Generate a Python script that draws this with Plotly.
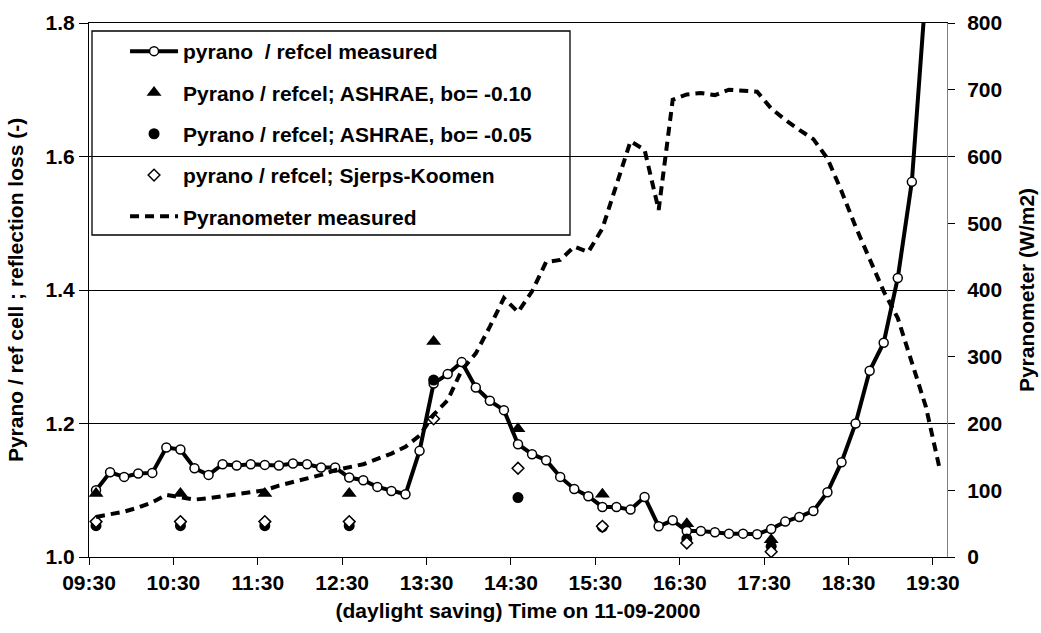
import plotly.graph_objects as go

DAY = "2000-09-11 "

# measured ratio pyranometer / reference cell, 10-minute samples
meas_times = ["09:35", "09:45", "09:55", "10:05", "10:15", "10:25", "10:35", "10:45", "10:55",
              "11:05", "11:15", "11:25", "11:35", "11:45", "11:55", "12:05", "12:15", "12:25",
              "12:35", "12:45", "12:55", "13:05", "13:15", "13:25", "13:35", "13:45", "13:55",
              "14:05", "14:15", "14:25", "14:35", "14:45", "14:55", "15:05", "15:15", "15:25",
              "15:35", "15:45", "15:55", "16:05", "16:15", "16:25", "16:35", "16:45", "16:55",
              "17:05", "17:15", "17:25", "17:35", "17:45", "17:55", "18:05", "18:15", "18:25",
              "18:35", "18:45", "18:55", "19:05", "19:15", "19:25"]
meas_ratio = [1.100, 1.127, 1.120, 1.125, 1.126, 1.164, 1.161, 1.133, 1.123,
              1.139, 1.137, 1.139, 1.138, 1.137, 1.140, 1.139, 1.134, 1.134,
              1.119, 1.115, 1.105, 1.099, 1.094, 1.159, 1.260, 1.274, 1.292,
              1.254, 1.234, 1.220, 1.169, 1.154, 1.145, 1.120, 1.102, 1.091,
              1.075, 1.075, 1.071, 1.090, 1.046, 1.055, 1.039, 1.039, 1.037,
              1.035, 1.035, 1.034, 1.042, 1.053, 1.060, 1.069, 1.097, 1.142,
              1.200, 1.279, 1.321, 1.418, 1.562, 1.850]

# reflection-loss model results, hourly
model_times = ["09:35", "10:35", "11:35", "12:35", "13:35", "14:35", "15:35", "16:35", "17:35"]
ashrae_010 = [1.095, 1.095, 1.095, 1.095, 1.323, 1.192, 1.094, 1.050, 1.026]
ashrae_005 = [1.047, 1.047, 1.047, 1.047, 1.265, 1.089, 1.045, 1.027, 1.016]
sjerps_koomen = [1.053, 1.053, 1.053, 1.053, 1.207, 1.133, 1.046, 1.021, 1.008]

# global irradiance from the pyranometer (W/m2)
pyr_times = meas_times + ["19:35"]
pyr_irr = [60, 64, 68, 74, 82, 93, 90, 86, 88,
           91, 94, 97, 100, 107, 112, 118, 123, 130,
           134, 139, 147, 155, 165, 182, 213, 235, 280,
           305, 345, 388, 367, 398, 442, 445, 465, 457,
           492, 560, 623, 610, 520, 685, 693, 695, 692,
           700, 698, 697, 672, 655, 640, 626, 597, 548,
           495, 448, 398, 358, 290, 225, 130]

def stamp(ts):
    return [DAY + t for t in ts]

FONT = "Liberation Sans, Arial, sans-serif"
FS = 21

fig = go.Figure()

fig.add_trace(go.Scatter(
    x=stamp(meas_times), y=meas_ratio, name="pyrano  / refcel measured",
    mode="lines+markers", legendrank=1, legendgroup="a",
    line=dict(color="black", width=4),
    marker=dict(symbol="circle", size=9, color="white", line=dict(color="black", width=1.5)),
))
fig.add_trace(go.Scatter(
    x=stamp(model_times), y=ashrae_010, name="Pyrano / refcel; ASHRAE, bo= -0.10",
    mode="markers", legendrank=2, legendgroup="b",
    marker=dict(symbol="triangle-up", size=13, color="black"),
))
fig.add_trace(go.Scatter(
    x=stamp(model_times), y=ashrae_005, name="Pyrano / refcel; ASHRAE, bo= -0.05",
    mode="markers", legendrank=3, legendgroup="c",
    marker=dict(symbol="circle", size=11, color="black"),
))
fig.add_trace(go.Scatter(
    x=stamp(model_times), y=sjerps_koomen, name="pyrano / refcel; Sjerps-Koomen",
    mode="markers", legendrank=4, legendgroup="d",
    marker=dict(symbol="diamond", size=9, color="white", line=dict(color="black", width=1.5)),
))
fig.add_trace(go.Scatter(
    x=stamp(pyr_times), y=pyr_irr, name="Pyranometer measured",
    mode="lines", yaxis="y2", legendrank=5, legendgroup="e",
    line=dict(color="black", width=4, dash="9px,6px"),
))

tickfont = dict(family=FONT, size=FS, color="black", weight="bold")

fig.update_layout(
    width=1041, height=633,
    margin=dict(l=89, r=94, t=23, b=76, autoexpand=False),
    paper_bgcolor="white", plot_bgcolor="white",
    font=dict(family=FONT, size=FS, color="black", weight="bold"),
    showlegend=True,
    legend=dict(
        x=0.042, xanchor="left", y=0.985, yanchor="top",
        bgcolor="rgba(0,0,0,0)", borderwidth=0,
        tracegroupgap=11, itemwidth=48,
        font=dict(family=FONT, size=FS, color="black", weight="bold"),
    ),
    xaxis=dict(
        type="date", automargin=False,
        range=[DAY + "09:30", DAY + "19:40"],
        tick0=DAY + "09:30", dtick=3600000, tickformat="%H:%M",
        ticks="outside", ticklen=7, tickcolor="black", tickwidth=1,
        showline=True, linecolor="black", linewidth=1, mirror=True,
        showgrid=False, zeroline=False,
        tickfont=tickfont,
        title=dict(text="(daylight saving) Time on 11-09-2000", font=tickfont, standoff=10),
    ),
    yaxis=dict(
        automargin=False,
        range=[1.0, 1.8], dtick=0.2, tickformat=".1f",
        ticks="outside", ticklen=9, tickcolor="black",
        showline=True, linecolor="black", linewidth=1,
        showgrid=True, gridcolor="black", gridwidth=1, zeroline=False,
        tickfont=tickfont,
        title=dict(text="Pyrano / ref cell ; reflection loss (-)", font=tickfont, standoff=16),
    ),
    yaxis2=dict(
        overlaying="y", side="right", automargin=False,
        range=[0, 800], dtick=100,
        ticks="outside", ticklen=7, tickcolor="black",
        showline=True, linecolor="#808080", linewidth=1,
        showgrid=False, zeroline=False,
        ticklabelstandoff=8,
        tickfont=tickfont,
        title=dict(text="Pyranometer (W/m2)", font=tickfont, standoff=18),
    ),
    shapes=[dict(
        type="rect", xref="paper", yref="paper", layer="between",
        x0=0.0035, x1=0.5606, y0=0.603, y1=0.985,
        fillcolor="white", line=dict(color="black", width=1.3),
    )],
)

fig.write_html("out.html")
